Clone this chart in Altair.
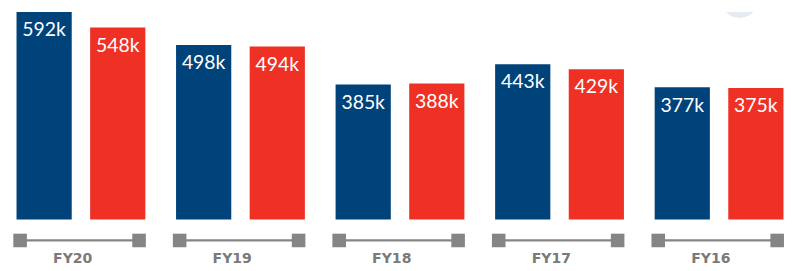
import altair as alt
import pandas as pd

# ---- data ----
years = ["FY20", "FY19", "FY18", "FY17", "FY16"]
series_names = ["Series A", "Series B"]
values_a = [592, 498, 385, 443, 377]
values_b = [548, 494, 388, 429, 375]

# ---- styles ----
colors = ["#00427a", "#ee3124"]
gray = "#858585"
label_gray = "#7a7a7a"

rows = []
for fy, a, b in zip(years, values_a, values_b):
    rows.append({"fy": fy, "series": series_names[0], "value": a, "label": f"{a}k"})
    rows.append({"fy": fy, "series": series_names[1], "value": b, "label": f"{b}k"})
df = pd.DataFrame(rows)
fy_df = pd.DataFrame({"fy": years})

x_scale = alt.Scale(domain=years, paddingInner=0.1925, paddingOuter=0.0534)
X = alt.X("fy:N", scale=x_scale, axis=None, sort=years)
X0 = alt.X("fy:N", scale=x_scale, axis=None, sort=years, bandPosition=0)
X1 = alt.X("fy:N", scale=x_scale, axis=None, sort=years, bandPosition=1)
XO = alt.XOffset("series:N", sort=series_names,
                 scale=alt.Scale(domain=series_names, paddingInner=0.25, paddingOuter=0))
Y = alt.Y("value:Q", scale=alt.Scale(domain=[0, 592], nice=False, zero=True), axis=None)

circle = alt.Chart(pd.DataFrame({"k": [0]})).mark_circle(
    size=1520, color="#e6ebf2", opacity=1, clip=True
).encode(x=alt.value(755), y=alt.value(-13.3))

bars = alt.Chart(df).mark_bar().encode(
    x=X, xOffset=XO, y=Y,
    color=alt.Color("series:N", scale=alt.Scale(domain=series_names, range=colors), legend=None),
)

labels = alt.Chart(df).mark_text(
    color="white", font="Lato", fontWeight="normal", fontSize=20, baseline="alphabetic", dy=25
).encode(x=X, xOffset=XO, y=Y, text="label:N")

line = alt.Chart(fy_df).mark_bar(color=gray).encode(
    x=X, y=alt.value(234.4), y2=alt.value(236.8)
)

sq_left = alt.Chart(fy_df).mark_square(size=196, color=gray, opacity=1, xOffset=3.7).encode(
    x=X0, y=alt.value(235.7)
)
sq_right = alt.Chart(fy_df).mark_square(size=196, color=gray, opacity=1, xOffset=-6.5).encode(
    x=X1, y=alt.value(235.7)
)

fy_text = alt.Chart(fy_df).mark_text(
    font="DejaVu Sans", fontWeight="bold", fontSize=14.5, color=label_gray,
    baseline="alphabetic", xOffset=-8.5
).encode(x=X, y=alt.value(259.3), text="fy:N")

chart = alt.layer(circle, bars, labels, line, sq_left, sq_right, fy_text).properties(
    width=809, height=214, padding=0, background="white"
).configure_view(stroke=None)

chart.save("out.html", embed_options={"renderer": "svg", "actions": False})
